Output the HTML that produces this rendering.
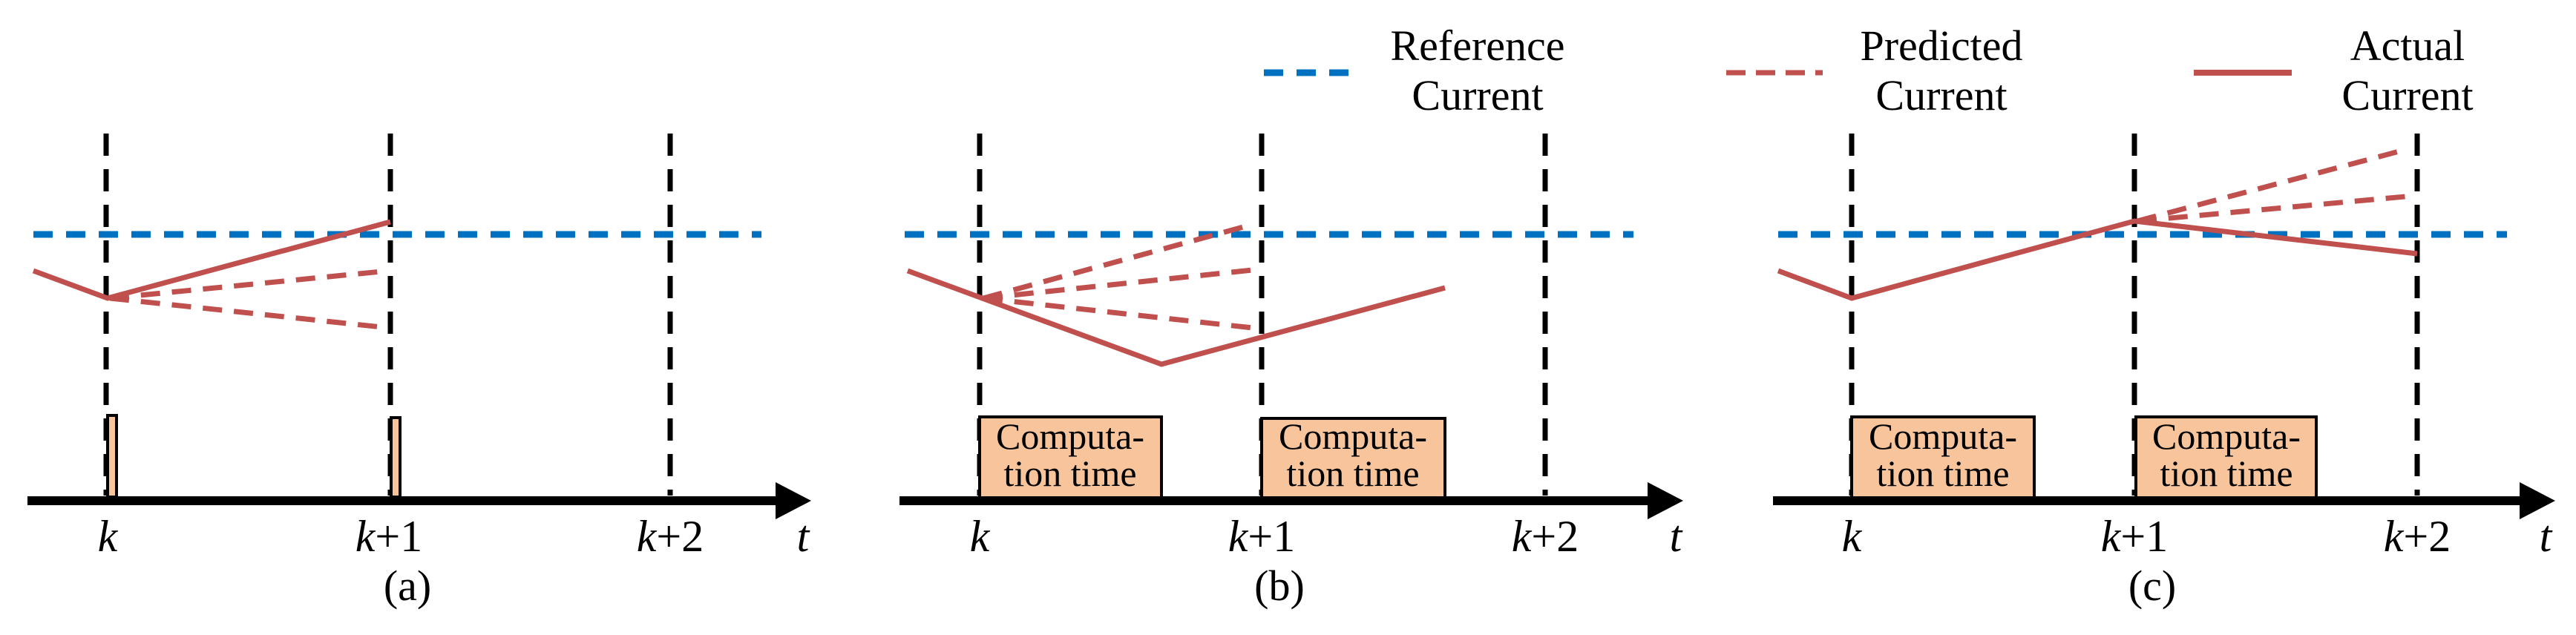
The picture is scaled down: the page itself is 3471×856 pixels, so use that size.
<!DOCTYPE html>
<html><head><meta charset="utf-8"><style>
html,body{margin:0;padding:0;background:#fff;}
svg{display:block;}
text{font-family:"Liberation Serif",serif;fill:#000;}
</style></head><body>
<svg width="3471" height="856" viewBox="0 0 3471 856" xmlns="http://www.w3.org/2000/svg">
<defs>
<style>
.vd{stroke:#000;stroke-width:7;stroke-dasharray:30 18;fill:none}
.bl{stroke:#0070c0;stroke-width:9;stroke-dasharray:26 18;fill:none}
.rs{stroke:#c0504d;stroke-width:7;fill:none}
.rd{stroke:#c0504d;stroke-width:7;stroke-dasharray:26 16;fill:none}
.ax{stroke:#000;stroke-width:12;fill:none}
.bx{fill:#f8c49b;stroke:#000;stroke-width:4}
.lb{font-size:60px;font-style:italic}
.lbn{font-style:normal}
.ct{font-size:50px}
.lg{font-size:58px}
</style>
</defs>
<!-- Panel (a) -->
<line class="vd" x1="143" y1="180" x2="143" y2="668"/>
<line class="vd" x1="526" y1="180" x2="526" y2="668"/>
<line class="vd" x1="903" y1="180" x2="903" y2="668"/>
<line class="bl" x1="45" y1="316" x2="1026" y2="316"/>
<polyline class="rs" points="45,365 145,402 526,299"/>
<line class="rd" x1="148" y1="402" x2="524" y2="365"/>
<line class="rd" x1="148" y1="402" x2="524" y2="442"/>
<rect class="bx" x="145" y="560" width="12" height="110"/>
<rect class="bx" x="527" y="563" width="12" height="107"/>
<line class="ax" x1="37" y1="675" x2="1060" y2="675"/>
<polygon points="1045,650 1093,675 1045,700"/>
<text class="lb" x="145" y="743" text-anchor="middle">k</text>
<text class="lb" x="524" y="743" text-anchor="middle">k<tspan class="lbn">+1</tspan></text>
<text class="lb" x="903" y="743" text-anchor="middle">k<tspan class="lbn">+2</tspan></text>
<text class="lb" x="1082" y="743" text-anchor="middle">t</text>
<text class="lg" x="549" y="809" text-anchor="middle">(a)</text>

<!-- Panel (b) -->
<line class="vd" x1="1320" y1="180" x2="1320" y2="668"/>
<line class="vd" x1="1700" y1="180" x2="1700" y2="668"/>
<line class="vd" x1="2082" y1="180" x2="2082" y2="668"/>
<line class="bl" x1="1219" y1="316" x2="2201" y2="316"/>
<polyline class="rs" points="1223,365 1565,491 1947,388"/>
<line class="rd" x1="1325" y1="402" x2="1686" y2="303"/>
<line class="rd" x1="1325" y1="402" x2="1697" y2="363"/>
<line class="rd" x1="1325" y1="402" x2="1697" y2="443"/>
<rect class="bx" x="1320" y="562" width="245" height="110"/>
<rect class="bx" x="1700" y="564" width="247" height="108"/>
<text class="ct" x="1442" y="605" text-anchor="middle">Computa-</text>
<text class="ct" x="1442" y="655" text-anchor="middle">tion time</text>
<text class="ct" x="1823" y="605" text-anchor="middle">Computa-</text>
<text class="ct" x="1823" y="655" text-anchor="middle">tion time</text>
<line class="ax" x1="1212" y1="675" x2="2235" y2="675"/>
<polygon points="2220,650 2268,675 2220,700"/>
<text class="lb" x="1320" y="743" text-anchor="middle">k</text>
<text class="lb" x="1700" y="743" text-anchor="middle">k<tspan class="lbn">+1</tspan></text>
<text class="lb" x="2082" y="743" text-anchor="middle">k<tspan class="lbn">+2</tspan></text>
<text class="lb" x="2258" y="743" text-anchor="middle">t</text>
<text class="lg" x="1724" y="809" text-anchor="middle">(b)</text>
<line class="bl" x1="1703" y1="98" x2="1833" y2="98"/>
<text class="lg" x="1991" y="81" text-anchor="middle">Reference</text>
<text class="lg" x="1991" y="148" text-anchor="middle">Current</text>

<!-- Panel (c) -->
<line class="vd" x1="2495" y1="180" x2="2495" y2="668"/>
<line class="vd" x1="2876" y1="180" x2="2876" y2="668"/>
<line class="vd" x1="3257" y1="180" x2="3257" y2="668"/>
<line class="bl" x1="2396" y1="316" x2="3378" y2="316"/>
<polyline class="rs" points="2396,365 2495,402 2876,298 3257,342"/>
<line class="rd" x1="2880" y1="298" x2="3244" y2="201"/>
<line class="rd" x1="2880" y1="298" x2="3252" y2="264"/>
<rect class="bx" x="2495" y="562" width="246" height="110"/>
<rect class="bx" x="2878" y="562" width="243" height="110"/>
<text class="ct" x="2618" y="605" text-anchor="middle">Computa-</text>
<text class="ct" x="2618" y="655" text-anchor="middle">tion time</text>
<text class="ct" x="3000" y="605" text-anchor="middle">Computa-</text>
<text class="ct" x="3000" y="655" text-anchor="middle">tion time</text>
<line class="ax" x1="2389" y1="675" x2="3410" y2="675"/>
<polygon points="3395,650 3443,675 3395,700"/>
<text class="lb" x="2495" y="743" text-anchor="middle">k</text>
<text class="lb" x="2876" y="743" text-anchor="middle">k<tspan class="lbn">+1</tspan></text>
<text class="lb" x="3257" y="743" text-anchor="middle">k<tspan class="lbn">+2</tspan></text>
<text class="lb" x="3430" y="743" text-anchor="middle">t</text>
<text class="lg" x="2900" y="809" text-anchor="middle">(c)</text>
<line class="rd" x1="2326" y1="98" x2="2456" y2="98" style="stroke-dasharray:26 14"/>
<text class="lg" x="2616" y="81" text-anchor="middle">Predicted</text>
<text class="lg" x="2616" y="148" text-anchor="middle">Current</text>
<line class="rs" x1="2956" y1="98" x2="3088" y2="98" style="stroke-width:8"/>
<text class="lg" x="3244" y="81" text-anchor="middle">Actual</text>
<text class="lg" x="3244" y="148" text-anchor="middle">Current</text>
</svg>
</body></html>
